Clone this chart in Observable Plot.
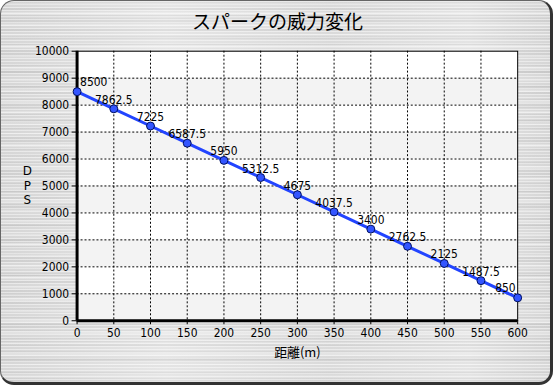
<!DOCTYPE html>
<html><head><meta charset="utf-8">
<script src="https://cdn.jsdelivr.net/npm/d3@7"></script>
<script src="https://cdn.jsdelivr.net/npm/@observablehq/plot@0.6"></script>
<style>
html,body{margin:0;padding:0;background:#fff;}
#card{position:absolute;left:0;top:0;width:553px;height:385px;box-sizing:border-box;
  border:1px solid #666;border-right:3px solid #333;border-bottom:3px solid #333;border-radius:14px;overflow:hidden;
  background:
   repeating-linear-gradient(180deg, rgba(255,255,255,0.45) 0 1px, transparent 1px 3px),
   repeating-linear-gradient(180deg, rgba(0,0,0,0.035) 0 2px, transparent 2px 7px),
   repeating-linear-gradient(180deg, rgba(255,255,255,0.25) 0 3px, transparent 3px 11px),
   repeating-linear-gradient(180deg, rgba(0,0,0,0.03) 0 4px, transparent 4px 17px),
   linear-gradient(90deg, #d6d6d6, #e6e6e6 30%, #dadada 60%, #e4e4e4 85%, #d6d6d6);}
#title{position:absolute;left:0;top:7px;width:553px;text-align:center;font:19px "Noto Sans CJK JP",sans-serif;color:#000;line-height:26px;}
#chart{position:absolute;left:-1px;top:-1px;}
#chart svg{background:transparent !important;}
</style></head>
<body>
<div id="card"><div id="title">スパークの威力変化</div><div id="chart"></div></div>
<script>
const distances = [0,50,100,150,200,250,300,350,400,450,500,550,600];
const dps = [8500,7862.5,7225,6587.5,5950,5312.5,4675,4037.5,3400,2762.5,2125,1487.5,850];
const xTicks = [0,50,100,150,200,250,300,350,400,450,500,550,600];
const yTicks = [0,1000,2000,3000,4000,5000,6000,7000,8000,9000,10000];
const xLabel = "距離(m)";
const yLabelChars = ["D","P","S"];

const data = distances.map((d,i)=>({x:d, y:dps[i], label:String(dps[i])}));
const bands = yTicks.filter((d,i)=> i%2===0 && d<10000);
const font = "DejaVu Sans Condensed, sans-serif";
const last = data.length-1;

const plot = Plot.plot({
  width:553, height:385,
  marginLeft:77, marginRight:33, marginTop:51, marginBottom:63,
  style:{fontFamily:font, fontSize:"12px", color:"#000", background:"transparent"},
  x:{domain:[0,600]},
  y:{domain:[0,10000]},
  marks:[
    Plot.frame({fill:"#fff"}),
    Plot.rect(bands, {y1:d=>d, y2:d=>d+1000, fill:"#f3f3f3"}),
    Plot.gridX(xTicks.slice(1,-1), {stroke:"#000", strokeOpacity:1, strokeDasharray:"2,2"}),
    Plot.gridY(yTicks.slice(1,-1), {stroke:"#000", strokeOpacity:1, strokeDasharray:"2,2"}),
    Plot.frame({stroke:"#000"}),
    Plot.ruleX([0], {stroke:"#000", strokeWidth:3}),
    Plot.ruleY([0], {stroke:"#000", strokeWidth:3}),
    Plot.axisY({ticks:yTicks, tickSize:5, tickPadding:3, tickFormat:d=>String(d), label:null, fontSize:12}),
    Plot.axisX({ticks:xTicks, tickSize:4, tickPadding:4, tickFormat:d=>String(d), label:null, fontSize:12}),
    ...yLabelChars.map((c,i)=> Plot.text([c], {frameAnchor:"left", textAnchor:"middle", dx:-50, dy:(i-1)*14.5, text:d=>d, fontSize:12, fontFamily:"DejaVu Sans, sans-serif"})),
    Plot.text([xLabel], {frameAnchor:"bottom", dy:36, text:d=>d, fontSize:13, fontFamily:"Noto Sans CJK JP"}),
    Plot.line(data, {x:"x", y:"y", stroke:"#2244ff", strokeWidth:3}),
    Plot.dot(data, {x:"x", y:"y", r:4, fill:"#3355ff", stroke:"#001060", strokeWidth:1}),
    Plot.text(data.slice(1,last), {x:"x", y:"y", text:"label", dy:-5, lineAnchor:"bottom", fontSize:12}),
    Plot.text([data[0]], {x:"x", y:"y", text:"label", dx:3, dy:-6, textAnchor:"start", lineAnchor:"bottom", fontSize:12}),
    Plot.text([data[last]], {x:"x", y:"y", text:"label", dx:-2, dy:-6, textAnchor:"end", lineAnchor:"bottom", fontSize:12})
  ]
});
document.getElementById("chart").appendChild(plot);
</script>
</body></html>
